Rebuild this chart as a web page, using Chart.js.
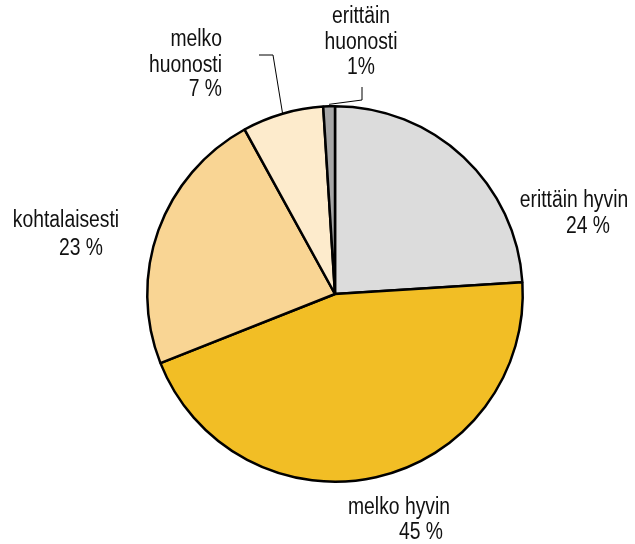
<!DOCTYPE html>
<html lang="fi">
<head>
  <meta charset="UTF-8">
  <title>Arvio</title>
  <style>
    html, body { margin: 0; padding: 0; background: #fff; }
    #wrap { width: 635px; height: 544px; position: relative; }
  </style>
</head>
<body>
  <div id="wrap">
    <canvas id="piirakka" width="635" height="544"></canvas>
  </div>

  <script src="https://cdn.jsdelivr.net/npm/chart.js"></script>
  <script>
    // luokat ja osuudet (%), myötäpäivään ylhäältä
    const luokat = ['erittäin hyvin', 'melko hyvin', 'kohtalaisesti', 'melko huonosti', 'erittäin huonosti'];
    const osuudet = [24, 45, 23, 7, 1];
    const varit = ['#dcdcdc', '#f2be25', '#f9d594', '#fdebcc', '#a6a6a6'];

    // tekstirivit ja niiden paikat
    const tekstit = [
      { rivit: ['erittäin hyvin', '24 %'], x: [574, 588], y: [201, 227], align: 'center' },
      { rivit: ['melko hyvin', '45 %'], x: [399, 421], y: [508, 533], align: 'center' },
      { rivit: ['kohtalaisesti', '23 %'], x: [66, 81], y: [221, 249], align: 'center' },
      { rivit: ['melko', 'huonosti', '7 %'], x: [222, 222, 222], y: [40, 66, 90], align: 'right' },
      { rivit: ['erittäin', 'huonosti', '1%'], x: [361, 361, 361], y: [17, 43, 68], align: 'center' }
    ];

    // kapea kirjasin: Liberation Sans kavennettuna vaakasuunnassa
    const FONTTI = '23px "Liberation Sans", Arial, sans-serif';
    const KAVENNUS = 0.84;

    const nimiotPlugin = {
      id: 'nimiot',
      afterDraw(chart) {
        const ctx = chart.ctx;
        ctx.save();
        ctx.fillStyle = '#111';
        ctx.font = FONTTI;
        ctx.textBaseline = 'middle';
        tekstit.forEach(t => {
          ctx.textAlign = t.align;
          t.rivit.forEach((r, i) => {
            ctx.save();
            ctx.translate(t.x[i], t.y[i]);
            ctx.scale(KAVENNUS, 1);
            ctx.fillText(r, 0, 0);
            ctx.restore();
          });
        });

        // ohjausviivat pienille sektoreille
        const kaaret = chart.getDatasetMeta(0).data;
        const reuna = (k) => {
          const a = (k.startAngle + k.endAngle) / 2;
          return { x: k.x + Math.cos(a) * k.outerRadius, y: k.y + Math.sin(a) * k.outerRadius };
        };
        ctx.strokeStyle = '#000';
        ctx.lineWidth = 1;
        let p = reuna(kaaret[3]);
        ctx.beginPath();
        ctx.moveTo(259, 55);
        ctx.lineTo(273, 55);
        ctx.lineTo(p.x, p.y);
        ctx.stroke();
        p = reuna(kaaret[4]);
        ctx.beginPath();
        ctx.moveTo(362, 87);
        ctx.lineTo(362, 100);
        ctx.lineTo(p.x, p.y - 2);
        ctx.stroke();
        ctx.restore();
      }
    };

    new Chart(document.getElementById('piirakka'), {
      type: 'pie',
      data: {
        labels: luokat,
        datasets: [{
          data: osuudet,
          backgroundColor: varit,
          borderColor: '#000',
          borderWidth: 2.5
        }]
      },
      options: {
        responsive: false,
        animation: false,
        layout: { padding: { left: 146, right: 111, top: 105, bottom: 61 } },
        plugins: {
          legend: { display: false },
          tooltip: { enabled: false }
        }
      },
      plugins: [nimiotPlugin]
    });
  </script>
</body>
</html>
